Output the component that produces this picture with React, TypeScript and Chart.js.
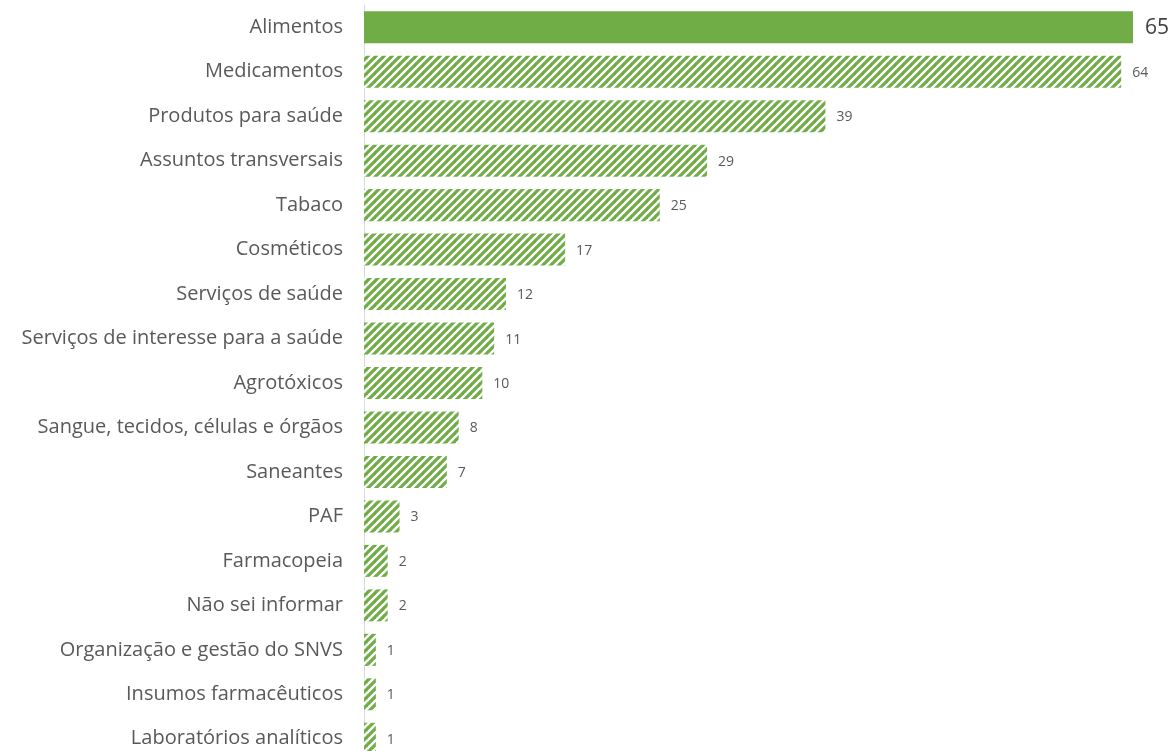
import React, { useEffect, useRef } from "react";
import { Chart, registerables } from "chart.js";

Chart.register(...registerables);

const categories = [
  "Alimentos",
  "Medicamentos",
  "Produtos para saúde",
  "Assuntos transversais",
  "Tabaco",
  "Cosméticos",
  "Serviços de saúde",
  "Serviços de interesse para a saúde",
  "Agrotóxicos",
  "Sangue, tecidos, células e órgãos",
  "Saneantes",
  "PAF",
  "Farmacopeia",
  "Não sei informar",
  "Organização e gestão do SNVS",
  "Insumos farmacêuticos",
  "Laboratórios analíticos",
];

const values = [65, 64, 39, 29, 25, 17, 12, 11, 10, 8, 7, 3, 2, 2, 1, 1, 1];

const GREEN = "#70AD47";
const FONT = "'Open Sans', 'Noto Sans', sans-serif";

function makePattern(): CanvasPattern | string {
  const c = document.createElement("canvas");
  c.width = 8;
  c.height = 8;
  const ctx = c.getContext("2d");
  if (!ctx) return GREEN;
  ctx.fillStyle = "#ffffff";
  ctx.fillRect(0, 0, 8, 8);
  ctx.strokeStyle = GREEN;
  ctx.lineWidth = 3.2;
  ctx.lineCap = "square";
  for (const off of [-8, 0, 8]) {
    ctx.beginPath();
    ctx.moveTo(off, 8);
    ctx.lineTo(off + 8, 0);
    ctx.stroke();
  }
  const p = ctx.createPattern(c, "repeat");
  return p || GREEN;
}

const valueLabels = {
  id: "valueLabels",
  afterDatasetsDraw(chart: any) {
    const ctx = chart.ctx;
    const meta = chart.getDatasetMeta(0);
    ctx.save();
    ctx.textBaseline = "middle";
    ctx.textAlign = "left";
    meta.data.forEach((bar: any, i: number) => {
      const v = chart.data.datasets[0].data[i];
      if (i === 0) {
        ctx.font = `21px ${FONT}`;
        ctx.fillStyle = "#404040";
        ctx.fillText(String(v), bar.x + 12, bar.y + 1);
      } else {
        ctx.font = `14px ${FONT}`;
        ctx.fillStyle = "#595959";
        ctx.fillText(String(v), bar.x + 11, bar.y + 1);
      }
    });
    ctx.restore();
  },
};

export default function App() {
  const ref = useRef<HTMLCanvasElement | null>(null);

  useEffect(() => {
    if (!ref.current) return;
    const pattern = makePattern();
    const colors = values.map((_, i) => (i === 0 ? GREEN : pattern));
    const chart = new Chart(ref.current, {
      type: "bar",
      data: {
        labels: categories,
        datasets: [
          {
            data: values,
            backgroundColor: colors as any,
            borderWidth: 0,
            barPercentage: 0.72,
            categoryPercentage: 1,
          },
        ],
      },
      options: {
        indexAxis: "y",
        animation: false,
        responsive: true,
        maintainAspectRatio: false,
        layout: { padding: { top: 5, right: 38, bottom: 0, left: 0 } },
        plugins: {
          legend: { display: false },
          tooltip: { enabled: false },
        },
        scales: {
          x: {
            display: false,
            min: 0,
            max: 65,
          },
          y: {
            afterFit(scale: any) {
              scale.width = 364;
              scale.paddingTop = 0;
              scale.paddingBottom = 0;
            },
            grid: { display: false, drawTicks: false },
            border: { display: true, color: "#d9d9d9", width: 1 },
            ticks: {
              padding: 21,
              color: "#595959",
              font: { family: FONT, size: 20 },
            },
          },
        },
      },
      plugins: [valueLabels],
    });
    return () => chart.destroy();
  }, []);

  return (
    <div
      style={{
        position: "absolute",
        left: 0,
        top: 0,
        width: 1171,
        height: 761,
        background: "#ffffff",
      }}
    >
      <canvas ref={ref} />
    </div>
  );
}
